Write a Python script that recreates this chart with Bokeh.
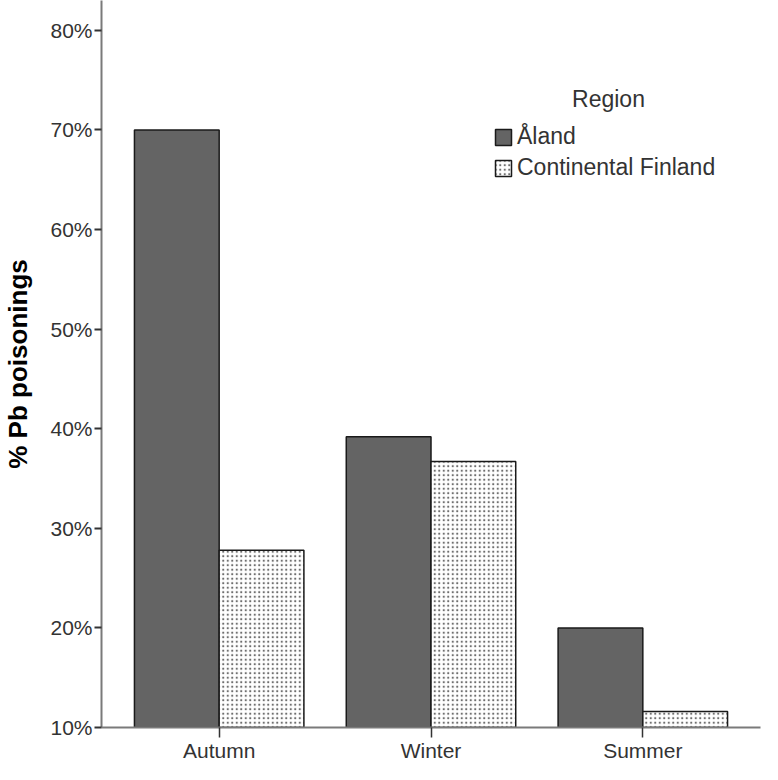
from bokeh.plotting import figure
from bokeh.models import (FactorRange, Range1d, ColumnDataSource, Legend, LegendItem,
                          Label, FixedTicker)
from bokeh.transform import dodge
from bokeh.embed import file_html
from bokeh.resources import INLINE

seasons = ["Autumn", "Winter", "Summer"]
aland = [70.0, 39.2, 20.0]
continental = [27.8, 36.7, 11.6]
y_ticks = [10, 20, 30, 40, 50, 60, 70, 80]
y_tick_labels = ["10%", "20%", "30%", "40%", "50%", "60%", "70%", "80%"]
series_names = ["Åland", "Continental Finland"]
legend_title = "Region"
y_label = "% Pb poisonings"

FONT = "Liberation Sans"

src = ColumnDataSource(dict(season=seasons, aland=aland, cont=continental))

p = figure(width=762, height=764, output_backend="svg", toolbar_location=None,
           x_range=FactorRange(*seasons, range_padding=0.037),
           y_range=Range1d(10, 83.0),
           min_border_left=92, min_border_right=2, min_border_top=0, min_border_bottom=30)
p.outline_line_color = None
p.xgrid.grid_line_color = None
p.ygrid.grid_line_color = None
p.background_fill_color = "white"

r1 = p.vbar(x=dodge("season", -0.2, range=p.x_range), top="aland", bottom=10, width=0.4,
            source=src, fill_color="#646464", line_color="#1a1a1a", line_width=1.5)
r2 = p.vbar(x=dodge("season", 0.2, range=p.x_range), top="cont", bottom=10, width=0.4,
            source=src, fill_color="white", line_color="#1a1a1a", line_width=1.5,
            hatch_pattern="dot", hatch_color="#6e6e6e", hatch_scale=4.5, hatch_weight=2.5)

# axes
p.yaxis.ticker = FixedTicker(ticks=y_ticks)
p.yaxis.major_label_overrides = {t: l for t, l in zip(y_ticks, y_tick_labels)}
p.yaxis.minor_tick_line_color = None
p.yaxis.major_tick_out = 7
p.yaxis.major_tick_in = 0
p.yaxis.major_tick_line_color = "#333333"
p.yaxis.major_tick_line_width = 2
p.yaxis.axis_line_color = "#7a7a7a"
p.yaxis.axis_line_width = 2
p.yaxis.major_label_text_font = FONT
p.yaxis.major_label_text_font_size = "21px"
p.yaxis.major_label_text_color = "#333333"
p.yaxis.major_label_standoff = 2
p.yaxis.axis_label = y_label
p.yaxis.axis_label_text_font = FONT
p.yaxis.axis_label_text_font_size = "26px"
p.yaxis.axis_label_text_font_style = "bold"
p.yaxis.axis_label_text_color = "black"
p.yaxis.axis_label_standoff = 14

p.xaxis.major_tick_out = 10
p.xaxis.major_tick_in = 0
p.xaxis.major_tick_line_color = "#333333"
p.xaxis.major_tick_line_width = 1.5
p.xaxis.axis_line_color = "#7a7a7a"
p.xaxis.axis_line_width = 2
p.xaxis.major_label_text_font = FONT
p.xaxis.major_label_text_font_size = "21px"
p.xaxis.major_label_text_color = "#333333"
p.xaxis.major_label_standoff = 1

legend = Legend(items=[LegendItem(label=series_names[0], renderers=[r1]),
                       LegendItem(label=series_names[1], renderers=[r2])],
                location=(392, 546), border_line_color=None, background_fill_alpha=0,
                label_text_font=FONT, label_text_font_size="23px", label_text_color="#333333",
                glyph_width=20, glyph_height=20, spacing=4, padding=0, margin=0,
                label_standoff=4)
p.add_layout(legend)

p.add_layout(Label(x=507, y=629, x_units="screen", y_units="screen", text=legend_title,
                   text_align="center", text_baseline="middle", text_font=FONT,
                   text_font_size="23px", text_color="#333333"))

open("out.html", "w").write(file_html(p, INLINE))
